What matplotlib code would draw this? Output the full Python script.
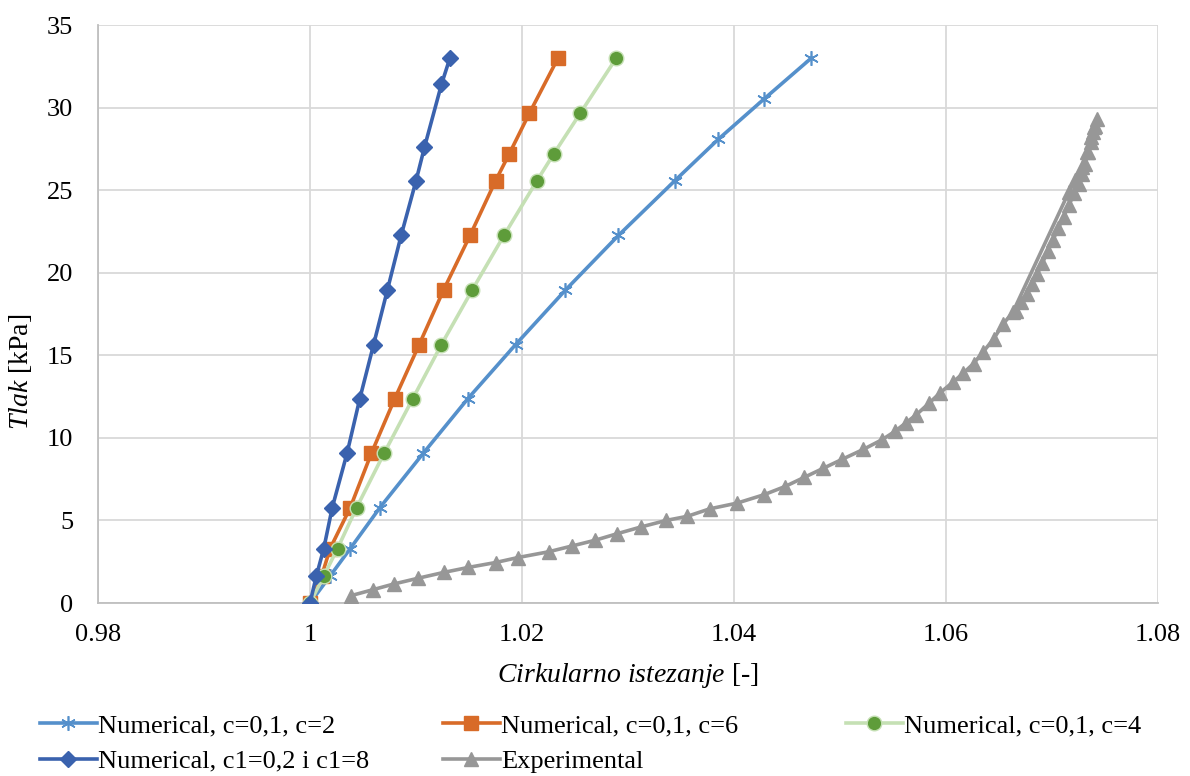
import matplotlib
matplotlib.use("Agg")
import matplotlib.pyplot as plt
from matplotlib.ticker import FuncFormatter, MultipleLocator

# ---- data ----
x_c2 = [1.0, 1.0019, 1.0038, 1.0066, 1.0107, 1.0149, 1.0194, 1.0241, 1.0291, 1.0344, 1.0385, 1.0428, 1.0473]
y_c2 = [0.0, 1.64, 3.3, 5.78, 9.08, 12.38, 15.65, 18.95, 22.26, 25.56, 28.07, 30.5, 33.0]

x_c6 = [1.0, 1.0011, 1.0019, 1.0038, 1.0058, 1.0080, 1.0103, 1.0126, 1.0151, 1.0175, 1.0188, 1.0207, 1.0234]
y_c6 = [0.0, 1.64, 3.3, 5.78, 9.08, 12.38, 15.65, 18.95, 22.26, 25.56, 27.2, 29.66, 33.0]

x_c4 = [1.0, 1.0013, 1.0026, 1.0044, 1.0070, 1.0097, 1.0124, 1.0153, 1.0183, 1.0214, 1.0230, 1.0255, 1.0289]
y_c4 = [0.0, 1.64, 3.3, 5.78, 9.08, 12.38, 15.65, 18.95, 22.26, 25.56, 27.2, 29.66, 33.0]

x_c1 = [1.0, 1.0006, 1.0013, 1.0021, 1.0035, 1.0047, 1.0060, 1.0073, 1.0086, 1.0100, 1.0108, 1.0124, 1.0132]
y_c1 = [0.0, 1.64, 3.3, 5.78, 9.08, 12.38, 15.65, 18.95, 22.26, 25.56, 27.6, 31.4, 33.0]

x_exp = [1.0039, 1.0059, 1.0079, 1.0102, 1.0126, 1.0149, 1.0175, 1.0196, 1.0225, 1.0247,
         1.0269, 1.0290, 1.0312, 1.0336, 1.0356, 1.0377, 1.0403, 1.0428, 1.0448, 1.0466,
         1.0484, 1.0502, 1.0522, 1.0540, 1.0552, 1.0562, 1.0572, 1.0584, 1.0594, 1.0607,
         1.0616, 1.0626, 1.0635, 1.0645, 1.0654, 1.0663,
         1.0716, 1.0722, 1.0728, 1.0733, 1.0737, 1.0740, 1.0742,
         1.0741, 1.0739, 1.0737, 1.0734, 1.0731, 1.0728, 1.0725, 1.0721, 1.0716, 1.0711,
         1.0706, 1.0701, 1.0696, 1.0691, 1.0686, 1.0681, 1.0676, 1.0671, 1.0666]
y_exp = [0.45, 0.8, 1.15, 1.5, 1.85, 2.15, 2.45, 2.75, 3.1, 3.45,
         3.8, 4.2, 4.6, 5.0, 5.25, 5.7, 6.05, 6.55, 7.05, 7.6,
         8.15, 8.7, 9.3, 9.9, 10.4, 10.9, 11.4, 12.1, 12.7, 13.4,
         13.9, 14.5, 15.2, 16.0, 16.9, 17.6,
         24.9, 25.6, 26.4, 27.3, 28.2, 28.8, 29.3,
         28.9, 28.5, 27.9, 27.3, 26.6, 26.0, 25.4, 24.8, 24.1, 23.4,
         22.7, 22.0, 21.3, 20.6, 19.9, 19.3, 18.7, 18.2, 17.7]

labels = ["Numerical, c=0,1, c=2", "Numerical, c=0,1, c=6", "Numerical, c=0,1, c=4",
          "Numerical, c1=0,2 i c1=8", "Experimental"]

# ---- style ----
plt.rcParams['font.family'] = ['Liberation Serif', 'DejaVu Serif']
plt.rcParams['mathtext.fontset'] = 'custom'
plt.rcParams['mathtext.rm'] = 'Liberation Serif'
plt.rcParams['mathtext.it'] = 'Liberation Serif:italic'

fig = plt.figure(figsize=(11.9, 7.76), dpi=100)
ax = fig.add_axes([98/1190, 1-603/776, 1060/1190, 578/776])

c_lb = '#5590CB'
c_or = '#D86B28'
c_gl = '#C5E0B4'
c_gd = '#5E9C3A'
c_db = '#3A62AE'
c_gr = '#979797'
lw = 2.6
fs = 19

h1, = ax.plot(x_c2, y_c2, color=c_lb, lw=lw, marker=(6, 2, 0), ms=10.5, mew=1.2,
              mec=c_lb, label=labels[0], zorder=3)
h2, = ax.plot(x_c6, y_c6, color=c_or, lw=lw, marker='s', ms=10.5, mec=c_or, mfc=c_or,
              label=labels[1], zorder=4)
h3, = ax.plot(x_c4, y_c4, color=c_gl, lw=lw, marker='o', ms=10.5, mfc=c_gd, mec=c_gl,
              mew=1.0, label=labels[2], zorder=5)
h4, = ax.plot(x_c1, y_c1, color=c_db, lw=lw, marker='D', ms=8, mfc=c_db, mec=c_db,
              label=labels[3], zorder=6)
h5, = ax.plot(x_exp, y_exp, color=c_gr, lw=lw, marker='^', ms=10, mfc=c_gr, mec=c_gr,
              label=labels[4], zorder=7)

ax.set_xlim(0.98, 1.08)
ax.set_ylim(0, 35)
ax.xaxis.set_major_locator(MultipleLocator(0.02))
ax.yaxis.set_major_locator(MultipleLocator(5))
ax.xaxis.set_major_formatter(FuncFormatter(lambda v, p: f'{v:.2f}'.rstrip('0').rstrip('.')))
ax.yaxis.set_major_formatter(FuncFormatter(lambda v, p: f'{v:g}'))
ax.grid(True, color='#D9D9D9', lw=1.3)
ax.set_axisbelow(True)
for s in ['top', 'right']:
    ax.spines[s].set_visible(False)
for s in ['left', 'bottom']:
    ax.spines[s].set_color('#BFBFBF')
    ax.spines[s].set_linewidth(1.3)
ax.tick_params(length=0, labelsize=fs)
ax.tick_params(axis='x', pad=15)
ax.tick_params(axis='y', pad=18)

ax.set_xlabel(r'$\mathit{Cirkularno\ istezanje}$ [-]', fontsize=20)
ax.xaxis.set_label_coords(0.5, -0.100)
ax.set_ylabel(r'$\mathit{Tlak}$ [kPa]', fontsize=20)
ax.yaxis.set_label_coords(-0.060, 0.40)

# legend in three columns placed like the reference
cols = [([h1, h4], [labels[0], labels[3]], 40/1190),
        ([h2, h5], [labels[1], labels[4]], 443/1190),
        ([h3], [labels[2]], 846/1190)]
for hs, ls, xpos in cols:
    fig.legend(hs, ls, loc='upper left', bbox_to_anchor=(xpos, 1-714/776),
               frameon=False, fontsize=fs, handlelength=2.15, handletextpad=0.05,
               labelspacing=0.45, borderaxespad=0, borderpad=0)

fig.savefig('out.png', dpi=100)
